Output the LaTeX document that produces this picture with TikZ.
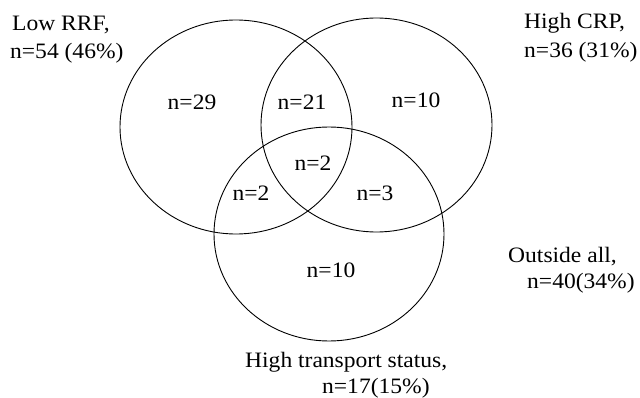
\documentclass[tikz,border=0pt]{standalone}
\usepackage{fontspec}
\setmainfont[FakeStretch=1.07]{Liberation Serif}
\begin{document}
\begin{tikzpicture}[x=1pt,y=-1pt,
  lbl/.style={inner sep=0pt, font=\fontsize{22}{26}\selectfont},
  ring/.style={draw=black, line width=0.9pt}]
\useasboundingbox (0,0) rectangle (640,398);
% sets
\draw[ring] (236,127) ellipse [x radius=116pt, y radius=107pt];
\draw[ring] (376.5,125) ellipse [x radius=115.5pt, y radius=107pt];
\draw[ring] (329,234) ellipse [x radius=115pt, y radius=107pt];
% set labels
\node[lbl, anchor=west] (lowA) at (12,25) {Low RRF,};
\node[lbl, anchor=west] (lowB) at (10,53) {n=54 (46\%)};
\node[lbl, anchor=west] (crpA) at (524,23) {High CRP,};
\node[lbl, anchor=west] (crpB) at (524,52) {n=36 (31\%)};
\node[lbl, anchor=west] (outA) at (508,257) {Outside all,};
\node[lbl, anchor=west] (outB) at (527,283) {n=40(34\%)};
\node[lbl, anchor=west] (trA) at (245,362) {High transport status,};
\node[lbl, anchor=west] (trB) at (322,388) {n=17(15\%)};
% region counts
\node[lbl] (r1) at (192,102) {n=29};
\node[lbl] (r2) at (302,102) {n=21};
\node[lbl] (r3) at (416,100) {n=10};
\node[lbl] (r4) at (313,163) {n=2};
\node[lbl] (r5) at (251,193) {n=2};
\node[lbl] (r6) at (375,193) {n=3};
\node[lbl] (r7) at (331,270) {n=10};
\end{tikzpicture}
\end{document}
